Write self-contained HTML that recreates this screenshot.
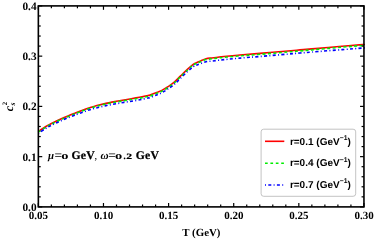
<!DOCTYPE html>
<html><head><meta charset="utf-8"><style>
html,body{margin:0;padding:0;background:#fff;}
svg{display:block;will-change:transform;}
text{filter:grayscale(1);text-rendering:geometricPrecision;}
text{font-family:"Liberation Serif",serif;font-weight:bold;font-size:10.5px;fill:#000;}
.leg text{font-family:"Liberation Sans",sans-serif;font-weight:bold;font-size:10px;}
</style></head><body>
<svg width="374" height="241" viewBox="0 0 374 241">
<rect width="374" height="241" fill="#fff"/>
<g>
<g fill="none" stroke-linecap="butt" stroke-linejoin="round">
<path d="M38.30 131.45 C38.47 131.34 38.03 131.62 39.30 130.80 C40.57 129.98 44.12 127.63 45.90 126.53 C47.68 125.44 48.32 125.11 50.00 124.22 C51.68 123.33 54.02 122.14 56.00 121.19 C57.98 120.25 59.90 119.40 61.90 118.53 C63.90 117.66 65.98 116.80 68.00 115.96 C70.02 115.13 72.67 114.07 74.00 113.53 C75.33 113.00 74.67 113.25 76.00 112.74 C77.33 112.23 80.00 111.20 82.00 110.46 C84.00 109.73 86.00 109.02 88.00 108.35 C90.00 107.69 92.00 107.05 94.00 106.46 C96.00 105.87 98.00 105.33 100.00 104.82 C102.00 104.31 104.00 103.84 106.00 103.40 C108.00 102.95 110.00 102.54 112.00 102.14 C114.00 101.74 116.00 101.37 118.00 101.01 C120.00 100.65 122.00 100.30 124.00 99.96 C126.00 99.61 128.00 99.28 130.00 98.93 C132.00 98.59 134.00 98.25 136.00 97.89 C138.00 97.53 140.00 97.17 142.00 96.78 C144.00 96.39 146.67 95.84 148.00 95.56 C149.33 95.28 148.67 95.58 150.00 95.12 C151.33 94.66 154.02 93.62 156.00 92.82 C157.98 92.02 159.90 91.36 161.90 90.34 C163.90 89.31 165.98 88.00 168.00 86.67 C170.02 85.35 171.90 84.17 174.00 82.38 C176.10 80.60 178.28 78.18 180.60 75.93 C182.92 73.69 185.80 70.85 187.90 68.92 C190.00 66.99 191.77 65.39 193.20 64.35 C194.63 63.30 195.37 63.19 196.50 62.66 C197.63 62.13 198.42 61.81 200.00 61.17 C201.58 60.53 204.00 59.34 206.00 58.81 C208.00 58.27 210.00 58.23 212.00 57.97 C214.00 57.70 216.00 57.45 218.00 57.21 C220.00 56.97 220.33 56.90 224.00 56.54 C227.67 56.17 234.00 55.54 240.00 55.01 C246.00 54.48 252.00 54.05 260.00 53.37 C268.00 52.70 281.33 51.56 288.00 50.98 C294.67 50.41 296.00 50.27 300.00 49.92 C304.00 49.56 305.00 49.46 312.00 48.85 C319.00 48.23 333.58 46.94 342.00 46.23 C350.42 45.52 358.93 44.86 362.50 44.58 C366.07 44.29 363.25 44.52 363.40 44.50" stroke="#f00" stroke-width="1.6"/>
<path d="M38.30 132.05 C38.47 131.94 38.03 132.22 39.30 131.40 C40.57 130.58 44.12 128.23 45.90 127.13 C47.68 126.04 48.32 125.71 50.00 124.82 C51.68 123.93 54.02 122.74 56.00 121.79 C57.98 120.85 59.90 120.00 61.90 119.13 C63.90 118.26 65.98 117.40 68.00 116.56 C70.02 115.73 72.67 114.67 74.00 114.13 C75.33 113.60 74.67 113.85 76.00 113.34 C77.33 112.83 80.00 111.80 82.00 111.06 C84.00 110.33 86.00 109.62 88.00 108.95 C90.00 108.29 92.00 107.65 94.00 107.06 C96.00 106.47 98.00 105.93 100.00 105.42 C102.00 104.91 104.00 104.44 106.00 104.00 C108.00 103.55 110.00 103.13 112.00 102.74 C114.00 102.36 116.00 102.02 118.00 101.69 C120.00 101.35 122.00 101.03 124.00 100.71 C126.00 100.38 128.00 100.08 130.00 99.76 C132.00 99.44 134.00 99.13 136.00 98.79 C138.00 98.44 140.00 98.07 142.00 97.68 C144.00 97.29 146.67 96.74 148.00 96.46 C149.33 96.18 148.67 96.48 150.00 96.02 C151.33 95.56 154.02 94.52 156.00 93.72 C157.98 92.92 159.90 92.27 161.90 91.24 C163.90 90.20 165.98 88.87 168.00 87.52 C170.02 86.18 171.90 85.00 174.00 83.19 C176.10 81.39 178.28 78.95 180.60 76.69 C182.92 74.43 185.80 71.56 187.90 69.62 C190.00 67.68 191.77 66.11 193.20 65.07 C194.63 64.03 195.37 63.92 196.50 63.40 C197.63 62.87 198.42 62.56 200.00 61.92 C201.58 61.29 204.00 60.11 206.00 59.58 C208.00 59.06 210.00 59.03 212.00 58.77 C214.00 58.51 216.00 58.26 218.00 58.03 C220.00 57.79 220.33 57.72 224.00 57.36 C227.67 57.01 234.00 56.39 240.00 55.87 C246.00 55.36 252.00 54.94 260.00 54.28 C268.00 53.63 281.33 52.52 288.00 51.96 C294.67 51.40 296.00 51.27 300.00 50.92 C304.00 50.56 305.00 50.45 312.00 49.83 C319.00 49.20 333.58 47.89 342.00 47.16 C350.42 46.44 358.93 45.77 362.50 45.48 C366.07 45.19 363.25 45.42 363.40 45.41" stroke="#00ee00" stroke-width="1.6" stroke-dasharray="3.0 2.4"/>
<path d="M38.30 133.25 C38.47 133.14 38.03 133.42 39.30 132.60 C40.57 131.78 44.12 129.43 45.90 128.33 C47.68 127.24 48.32 126.91 50.00 126.02 C51.68 125.13 54.02 123.94 56.00 122.99 C57.98 122.05 59.90 121.19 61.90 120.33 C63.90 119.47 65.98 118.63 68.00 117.81 C70.02 116.99 72.67 115.95 74.00 115.42 C75.33 114.90 74.67 115.15 76.00 114.65 C77.33 114.15 80.00 113.13 82.00 112.42 C84.00 111.70 86.00 111.00 88.00 110.35 C90.00 109.71 92.00 109.10 94.00 108.54 C96.00 107.97 98.00 107.46 100.00 106.97 C102.00 106.48 104.00 106.04 106.00 105.62 C108.00 105.20 110.00 104.81 112.00 104.44 C114.00 104.07 116.00 103.72 118.00 103.39 C120.00 103.05 122.00 102.73 124.00 102.41 C126.00 102.08 128.00 101.78 130.00 101.46 C132.00 101.14 134.00 100.84 136.00 100.49 C138.00 100.13 140.00 99.72 142.00 99.31 C144.00 98.90 146.67 98.31 148.00 98.02 C149.33 97.73 148.67 98.03 150.00 97.56 C151.33 97.09 154.02 96.01 156.00 95.19 C157.98 94.37 159.90 93.68 161.90 92.64 C163.90 91.60 165.98 90.28 168.00 88.95 C170.02 87.61 171.90 86.44 174.00 84.64 C176.10 82.84 178.28 80.42 180.60 78.16 C182.92 75.91 185.80 73.02 187.90 71.12 C190.00 69.22 191.77 67.73 193.20 66.74 C194.63 65.75 195.37 65.67 196.50 65.18 C197.63 64.69 198.42 64.40 200.00 63.82 C201.58 63.24 204.00 62.14 206.00 61.68 C208.00 61.22 210.00 61.29 212.00 61.07 C214.00 60.84 216.00 60.55 218.00 60.31 C220.00 60.07 220.33 60.00 224.00 59.64 C227.67 59.27 234.00 58.64 240.00 58.11 C246.00 57.58 252.00 57.15 260.00 56.47 C268.00 55.80 281.33 54.66 288.00 54.08 C294.67 53.51 296.00 53.36 300.00 53.02 C304.00 52.68 305.00 52.60 312.00 52.04 C319.00 51.47 333.58 50.30 342.00 49.64 C350.42 48.98 358.93 48.35 362.50 48.08 C366.07 47.80 363.25 48.02 363.40 48.00" stroke="#00f" stroke-width="1.6" stroke-dasharray="1.0 2.3 3.0 2.3"/>
</g>
<g stroke="#000" stroke-width="1.2"><line x1="38.35" y1="206.90" x2="38.35" y2="203.00"/><line x1="38.35" y1="5.90" x2="38.35" y2="9.80"/><line x1="51.37" y1="206.90" x2="51.37" y2="204.50"/><line x1="51.37" y1="5.90" x2="51.37" y2="8.30"/><line x1="64.40" y1="206.90" x2="64.40" y2="204.50"/><line x1="64.40" y1="5.90" x2="64.40" y2="8.30"/><line x1="77.42" y1="206.90" x2="77.42" y2="204.50"/><line x1="77.42" y1="5.90" x2="77.42" y2="8.30"/><line x1="90.45" y1="206.90" x2="90.45" y2="204.50"/><line x1="90.45" y1="5.90" x2="90.45" y2="8.30"/><line x1="103.47" y1="206.90" x2="103.47" y2="203.00"/><line x1="103.47" y1="5.90" x2="103.47" y2="9.80"/><line x1="116.49" y1="206.90" x2="116.49" y2="204.50"/><line x1="116.49" y1="5.90" x2="116.49" y2="8.30"/><line x1="129.52" y1="206.90" x2="129.52" y2="204.50"/><line x1="129.52" y1="5.90" x2="129.52" y2="8.30"/><line x1="142.54" y1="206.90" x2="142.54" y2="204.50"/><line x1="142.54" y1="5.90" x2="142.54" y2="8.30"/><line x1="155.57" y1="206.90" x2="155.57" y2="204.50"/><line x1="155.57" y1="5.90" x2="155.57" y2="8.30"/><line x1="168.59" y1="206.90" x2="168.59" y2="203.00"/><line x1="168.59" y1="5.90" x2="168.59" y2="9.80"/><line x1="181.61" y1="206.90" x2="181.61" y2="204.50"/><line x1="181.61" y1="5.90" x2="181.61" y2="8.30"/><line x1="194.64" y1="206.90" x2="194.64" y2="204.50"/><line x1="194.64" y1="5.90" x2="194.64" y2="8.30"/><line x1="207.66" y1="206.90" x2="207.66" y2="204.50"/><line x1="207.66" y1="5.90" x2="207.66" y2="8.30"/><line x1="220.69" y1="206.90" x2="220.69" y2="204.50"/><line x1="220.69" y1="5.90" x2="220.69" y2="8.30"/><line x1="233.71" y1="206.90" x2="233.71" y2="203.00"/><line x1="233.71" y1="5.90" x2="233.71" y2="9.80"/><line x1="246.73" y1="206.90" x2="246.73" y2="204.50"/><line x1="246.73" y1="5.90" x2="246.73" y2="8.30"/><line x1="259.76" y1="206.90" x2="259.76" y2="204.50"/><line x1="259.76" y1="5.90" x2="259.76" y2="8.30"/><line x1="272.78" y1="206.90" x2="272.78" y2="204.50"/><line x1="272.78" y1="5.90" x2="272.78" y2="8.30"/><line x1="285.81" y1="206.90" x2="285.81" y2="204.50"/><line x1="285.81" y1="5.90" x2="285.81" y2="8.30"/><line x1="298.83" y1="206.90" x2="298.83" y2="203.00"/><line x1="298.83" y1="5.90" x2="298.83" y2="9.80"/><line x1="311.85" y1="206.90" x2="311.85" y2="204.50"/><line x1="311.85" y1="5.90" x2="311.85" y2="8.30"/><line x1="324.88" y1="206.90" x2="324.88" y2="204.50"/><line x1="324.88" y1="5.90" x2="324.88" y2="8.30"/><line x1="337.90" y1="206.90" x2="337.90" y2="204.50"/><line x1="337.90" y1="5.90" x2="337.90" y2="8.30"/><line x1="350.93" y1="206.90" x2="350.93" y2="204.50"/><line x1="350.93" y1="5.90" x2="350.93" y2="8.30"/><line x1="363.95" y1="206.90" x2="363.95" y2="203.00"/><line x1="363.95" y1="5.90" x2="363.95" y2="9.80"/><line x1="38.35" y1="206.90" x2="42.25" y2="206.90"/><line x1="363.95" y1="206.90" x2="360.05" y2="206.90"/><line x1="38.35" y1="196.85" x2="40.75" y2="196.85"/><line x1="363.95" y1="196.85" x2="361.55" y2="196.85"/><line x1="38.35" y1="186.80" x2="40.75" y2="186.80"/><line x1="363.95" y1="186.80" x2="361.55" y2="186.80"/><line x1="38.35" y1="176.75" x2="40.75" y2="176.75"/><line x1="363.95" y1="176.75" x2="361.55" y2="176.75"/><line x1="38.35" y1="166.70" x2="40.75" y2="166.70"/><line x1="363.95" y1="166.70" x2="361.55" y2="166.70"/><line x1="38.35" y1="156.65" x2="42.25" y2="156.65"/><line x1="363.95" y1="156.65" x2="360.05" y2="156.65"/><line x1="38.35" y1="146.60" x2="40.75" y2="146.60"/><line x1="363.95" y1="146.60" x2="361.55" y2="146.60"/><line x1="38.35" y1="136.55" x2="40.75" y2="136.55"/><line x1="363.95" y1="136.55" x2="361.55" y2="136.55"/><line x1="38.35" y1="126.50" x2="40.75" y2="126.50"/><line x1="363.95" y1="126.50" x2="361.55" y2="126.50"/><line x1="38.35" y1="116.45" x2="40.75" y2="116.45"/><line x1="363.95" y1="116.45" x2="361.55" y2="116.45"/><line x1="38.35" y1="106.40" x2="42.25" y2="106.40"/><line x1="363.95" y1="106.40" x2="360.05" y2="106.40"/><line x1="38.35" y1="96.35" x2="40.75" y2="96.35"/><line x1="363.95" y1="96.35" x2="361.55" y2="96.35"/><line x1="38.35" y1="86.30" x2="40.75" y2="86.30"/><line x1="363.95" y1="86.30" x2="361.55" y2="86.30"/><line x1="38.35" y1="76.25" x2="40.75" y2="76.25"/><line x1="363.95" y1="76.25" x2="361.55" y2="76.25"/><line x1="38.35" y1="66.20" x2="40.75" y2="66.20"/><line x1="363.95" y1="66.20" x2="361.55" y2="66.20"/><line x1="38.35" y1="56.15" x2="42.25" y2="56.15"/><line x1="363.95" y1="56.15" x2="360.05" y2="56.15"/><line x1="38.35" y1="46.10" x2="40.75" y2="46.10"/><line x1="363.95" y1="46.10" x2="361.55" y2="46.10"/><line x1="38.35" y1="36.05" x2="40.75" y2="36.05"/><line x1="363.95" y1="36.05" x2="361.55" y2="36.05"/><line x1="38.35" y1="26.00" x2="40.75" y2="26.00"/><line x1="363.95" y1="26.00" x2="361.55" y2="26.00"/><line x1="38.35" y1="15.95" x2="40.75" y2="15.95"/><line x1="363.95" y1="15.95" x2="361.55" y2="15.95"/><line x1="38.35" y1="5.90" x2="42.25" y2="5.90"/><line x1="363.95" y1="5.90" x2="360.05" y2="5.90"/></g>
<rect x="38.35" y="5.9" width="325.59999999999997" height="201.0" fill="none" stroke="#000" stroke-width="1.6"/>
<g><text x="38.45" y="219.0" text-anchor="middle" style="font-size:11px">0.05</text><text x="103.57" y="219.0" text-anchor="middle" style="font-size:11px">0.10</text><text x="168.69" y="219.0" text-anchor="middle" style="font-size:11px">0.15</text><text x="233.81" y="219.0" text-anchor="middle" style="font-size:11px">0.20</text><text x="298.93" y="219.0" text-anchor="middle" style="font-size:11px">0.25</text><text x="364.05" y="219.0" text-anchor="middle" style="font-size:11px">0.30</text><text x="36.6" y="210.80" text-anchor="end" style="font-size:11.3px">0.0</text><text x="36.6" y="160.55" text-anchor="end" style="font-size:11.3px">0.1</text><text x="36.6" y="110.30" text-anchor="end" style="font-size:11.3px">0.2</text><text x="36.6" y="60.05" text-anchor="end" style="font-size:11.3px">0.3</text><text x="36.6" y="9.80" text-anchor="end" style="font-size:11.3px">0.4</text></g>
<text x="201.4" y="235.9" text-anchor="middle" style="font-size:10.9px">T (GeV)</text>
<g transform="translate(12.6,111.2) rotate(-90)">
<text x="0" y="0" style="font-style:italic;font-size:12px">c</text>
<text x="5.6" y="2.6" style="font-style:italic;font-size:7.5px">s</text>
<text x="6.0" y="-6.0" style="font-size:6.8px">2</text>
</g>
<g class="ann">
<text x="48.0" y="158.9" style="font-style:italic;font-size:10.8px">μ</text>
<text transform="translate(54.4,158.9) scale(1.15,1)" style="font-size:11.7px">=</text>
<text transform="translate(61.2,158.9) scale(1.36,1)" style="font-size:10.6px">o</text>
<text x="71.4" y="158.9" style="font-size:11.7px;letter-spacing:0.3px;stroke:#000;stroke-width:0.25px">GeV</text>
<text x="94.6" y="158.9" style="font-weight:normal;font-size:10.6px">,</text>
<text x="100.4" y="158.9" style="font-style:italic;font-size:11.2px">ω</text>
<text transform="translate(108.2,158.9) scale(1.15,1)" style="font-size:11.7px">=</text>
<text transform="translate(115.1,158.9) scale(1.36,1)" style="font-size:10.6px">o</text>
<text x="123.2" y="158.9" style="font-size:10.6px">.</text>
<text transform="translate(126.3,158.9) scale(1.1,0.76)" style="font-size:10.6px;stroke:#000;stroke-width:0.25px">2</text>
<text x="135.7" y="158.9" style="font-size:11.7px;letter-spacing:0.3px;stroke:#000;stroke-width:0.25px">GeV</text>
</g>
<g class="leg">
<rect x="261.1" y="129.2" width="94.6" height="67.1" rx="2.6" ry="2.6" fill="#fff" stroke="#b4b4b4" stroke-width="0.8"/>
<line x1="265" y1="141.3" x2="284.3" y2="141.3" stroke="#f00" stroke-width="1.6"/>
<line x1="265" y1="163.2" x2="284.3" y2="163.2" stroke="#00ee00" stroke-width="1.6" stroke-dasharray="2.7 2.7"/>
<line x1="265" y1="185.0" x2="284.3" y2="185.0" stroke="#00f" stroke-width="1.6" stroke-dasharray="1.0 2.3 3.0 2.3"/>
<text x="289.9" y="144.5">r=0.1 (GeV<tspan dy="-4.5" style="font-size:6.8px">−1</tspan><tspan dy="4.5">)</tspan></text>
<text x="289.9" y="166.3">r=0.4 (GeV<tspan dy="-4.5" style="font-size:6.8px">−1</tspan><tspan dy="4.5">)</tspan></text>
<text x="289.9" y="187.8">r=0.7 (GeV<tspan dy="-4.5" style="font-size:6.8px">−1</tspan><tspan dy="4.5">)</tspan></text>
</g>
</g>
</svg>
</body></html>
